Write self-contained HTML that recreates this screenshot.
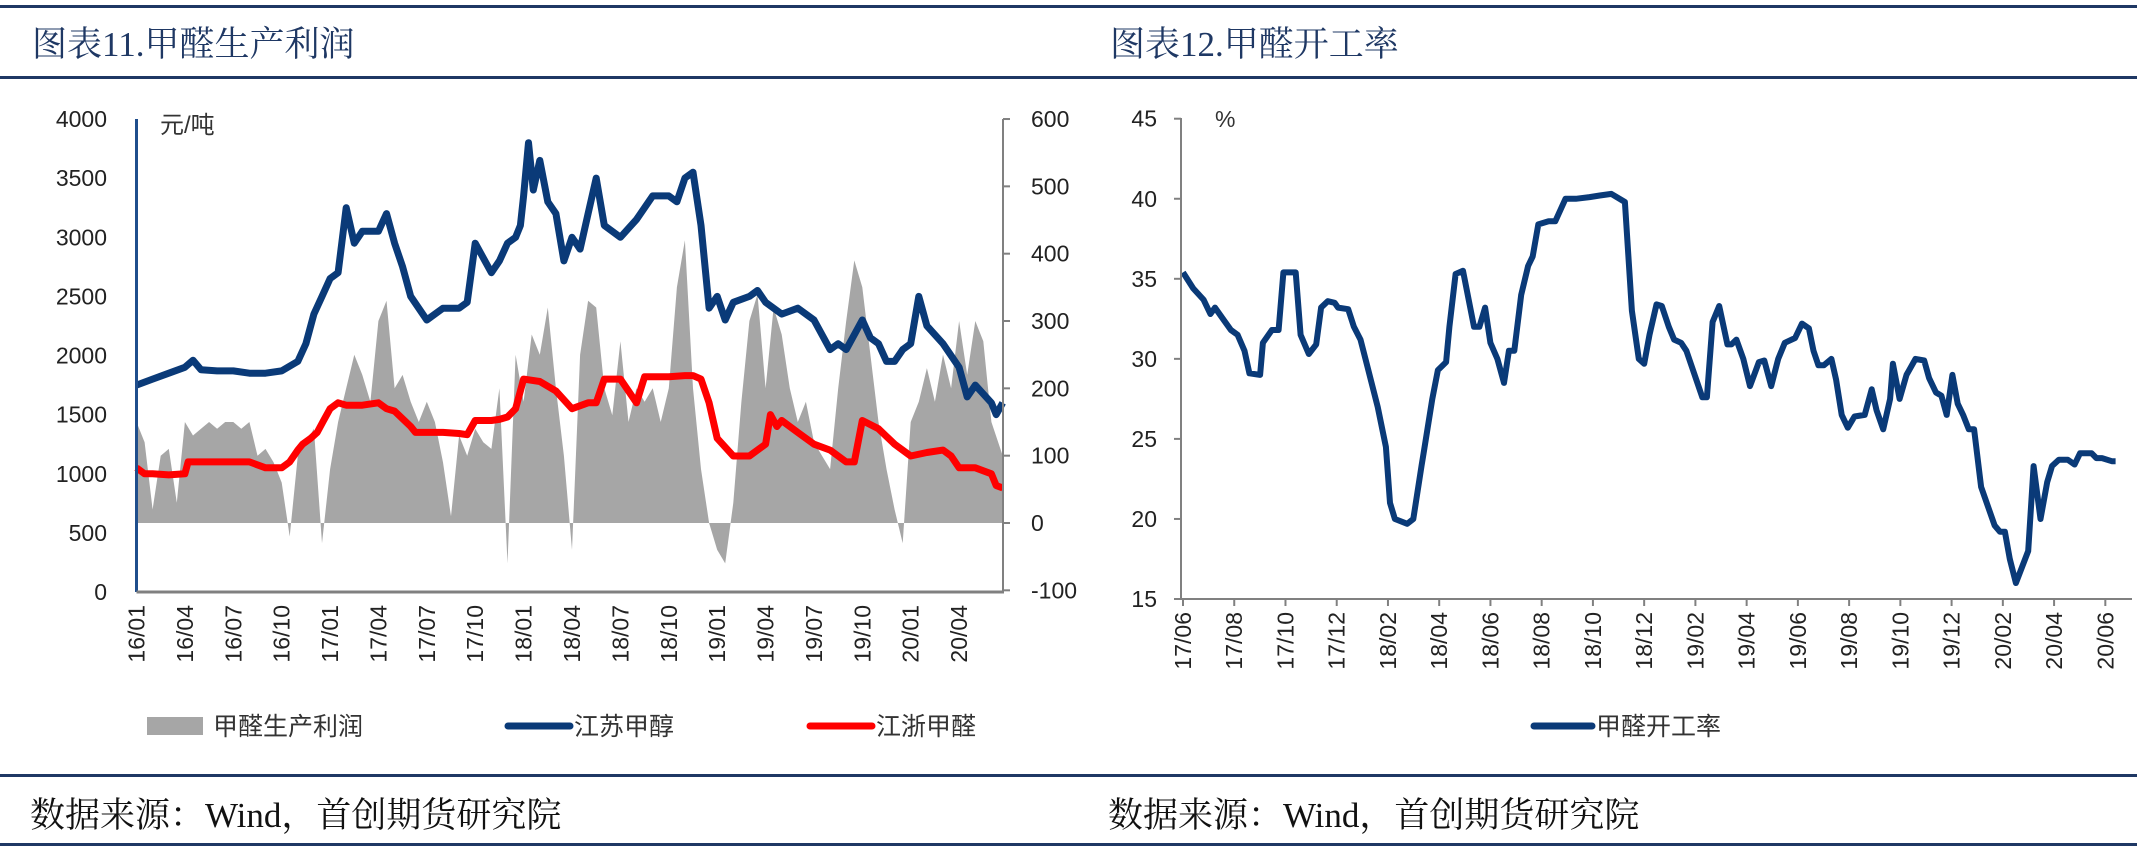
<!DOCTYPE html>
<html><head><meta charset="utf-8">
<style>
body{margin:0;background:#fff;}
svg{display:block;}
text{font-family:"Liberation Sans","Noto Sans CJK SC",sans-serif;}
.serif{font-family:"Liberation Serif","Noto Serif CJK SC",serif;}
</style></head>
<body>
<svg id="s" width="2137" height="849" viewBox="0 0 2137 849" xmlns="http://www.w3.org/2000/svg">
<rect x="0" y="5" width="2137" height="3" fill="#1f3864"/>
<rect x="0" y="76" width="2137" height="3" fill="#1f3864"/>
<rect x="0" y="774" width="2137" height="3" fill="#1f3864"/>
<rect x="0" y="843" width="2137" height="3" fill="#1f3864"/>
<text class="serif" x="32" y="56" font-size="35" fill="#1f3864">图表11.甲醛生产利润</text>
<text class="serif" x="1110" y="56" font-size="35" fill="#1f3864">图表12.甲醛开工率</text>
<text class="serif" x="30" y="827" font-size="35" fill="#111">数据来源：Wind，首创期货研究院</text>
<text class="serif" x="1108" y="827" font-size="35" fill="#111">数据来源：Wind，首创期货研究院</text>
<g id="L"></g>
<g id="R"></g>
</svg>
<script>
// ---- left chart data (t = months since 2016/01) ----
const methT=[0,1,2,3,3.5,4,5,6,7,8,9,10,10.5,11,11.5,12,12.5,13,13.5,14,15,15.5,16,16.5,17,18,19,20,20.5,21,22,22.5,23,23.5,23.8,24,24.3,24.6,25,25.5,26,26.5,27,27.5,28,28.5,29,30,31,32,33,33.5,34,34.5,35,35.5,36,36.5,37,38,38.5,39,40,41,42,43,43.5,44,45,45.5,46,46.5,47,47.5,48,48.5,49,50,51,51.5,52,53,53.3,53.7];
const methV=[1750,1800,1850,1900,1960,1880,1870,1870,1850,1850,1870,1950,2100,2350,2500,2650,2700,3250,2950,3050,3050,3200,2950,2750,2500,2300,2400,2400,2450,2950,2700,2800,2950,3000,3100,3350,3800,3400,3650,3300,3200,2800,3000,2900,3200,3500,3100,3000,3150,3350,3350,3300,3500,3550,3100,2400,2500,2300,2450,2500,2550,2450,2350,2400,2300,2050,2100,2050,2300,2150,2100,1950,1950,2050,2100,2500,2250,2100,1900,1650,1750,1600,1500,1600];
const hchoT=[0,0.5,1,2,3,3.2,4,5,6,7,8,9,9.5,10,10.3,10.8,11.2,11.6,12,12.5,13,14,15,15.5,16,17,17.3,18,19,20,20.5,21,22,22.5,23,23.5,24,25,26,27,28,28.5,29,30,30.5,31,31.5,32,33,34,34.5,35,35.5,36,37,38,39,39.3,39.7,40,41,42,43,44,44.5,45,46,47,48,49,50,50.5,51,52,53,53.3,53.7];
const hchoV=[1050,1000,1000,990,1000,1100,1100,1100,1100,1100,1050,1050,1100,1200,1250,1300,1350,1450,1550,1600,1580,1580,1600,1550,1530,1400,1350,1350,1350,1340,1330,1450,1450,1460,1480,1550,1800,1780,1700,1550,1600,1600,1800,1800,1700,1600,1820,1820,1820,1830,1830,1800,1600,1300,1150,1150,1250,1500,1400,1450,1350,1250,1200,1100,1100,1450,1380,1250,1150,1180,1200,1150,1050,1050,1000,900,880];
const profitT=[0,0.5,1,1.5,2,2.5,3,3.5,4,4.5,5,5.5,6,6.5,7,7.5,8,8.5,9,9.5,10,10.5,11,11.5,12,12.5,13,13.5,14,14.5,15,15.5,16,16.5,17,17.5,18,18.5,19,19.5,20,20.5,21,21.5,22,22.5,23,23.5,24,24.5,25,25.5,26,26.5,27,27.5,28,28.5,29,29.5,30,30.5,31,31.5,32,32.5,33,33.5,34,34.5,35,35.5,36,36.5,37,37.5,38,38.5,39,39.5,40,40.5,41,41.5,42,42.5,43,43.5,44,44.5,45,45.5,46,46.5,47,47.5,48,48.5,49,49.5,50,50.5,51,51.5,52,52.5,53,53.7];
const profitV=[150,120,20,100,110,30,150,130,140,150,140,150,150,140,150,100,110,90,60,-20,100,120,140,-30,80,150,200,250,220,180,300,330,200,220,180,150,180,150,90,10,130,100,140,120,110,200,-60,250,180,280,250,320,200,100,-40,250,330,320,200,160,270,150,200,180,200,150,200,350,420,200,80,0,-40,-60,30,180,300,340,200,320,280,200,150,180,120,100,80,200,300,390,350,250,150,80,20,-30,150,180,230,180,250,200,300,220,300,270,150,100];
const leftTicks=["0","500","1000","1500","2000","2500","3000","3500","4000"];
const rightTicks=["-100","0","100","200","300","400","500","600"];
const leftXLabels=["16/01","16/04","16/07","16/10","17/01","17/04","17/07","17/10","18/01","18/04","18/07","18/10","19/01","19/04","19/07","19/10","20/01","20/04"];
// ---- right chart data (t = months since 2017/06) ----
const rateT=[0,0.4,0.8,1.07,1.25,1.6,1.87,2.13,2.4,2.59,3.01,3.12,3.47,3.73,3.92,4.4,4.59,4.91,5.2,5.39,5.65,5.92,6.05,6.45,6.67,6.93,7.2,7.6,7.92,8.08,8.27,8.75,8.99,9.31,9.41,9.73,9.95,10.27,10.4,10.64,10.93,11.36,11.57,11.79,12.0,12.27,12.53,12.72,12.93,13.2,13.47,13.65,13.87,14.27,14.53,14.93,15.33,15.87,16.27,16.72,17.25,17.52,17.79,18.0,18.21,18.48,18.69,18.96,19.17,19.44,19.65,20.27,20.45,20.67,20.93,21.25,21.41,21.6,21.87,22.13,22.48,22.69,22.96,23.23,23.49,23.89,24.16,24.43,24.61,24.8,25.01,25.31,25.49,25.71,25.95,26.21,26.61,26.88,27.07,27.33,27.6,27.71,27.97,28.24,28.59,28.93,29.12,29.39,29.6,29.81,30.03,30.24,30.45,30.67,30.88,31.15,31.68,31.89,32.08,32.27,32.51,32.99,33.2,33.47,33.73,33.92,34.19,34.53,34.8,35.01,35.47,35.65,35.87,36.27,36.4];
const rateV=[35.4,34.4,33.7,32.8,33.2,32.4,31.8,31.5,30.5,29.1,29.0,31.0,31.8,31.8,35.4,35.4,31.5,30.3,30.9,33.2,33.6,33.5,33.2,33.1,32.0,31.2,29.5,27.0,24.5,21.0,20.0,19.7,20.0,23.3,24.3,27.5,29.3,29.8,32.0,35.3,35.5,32.0,32.0,33.2,31.0,30.0,28.5,30.5,30.5,34.0,35.8,36.4,38.4,38.6,38.6,40.0,40.0,40.1,40.2,40.3,39.8,33.0,30.0,29.7,31.5,33.4,33.3,32.0,31.2,31.0,30.5,27.6,27.6,32.3,33.3,30.9,30.9,31.2,30.0,28.3,29.8,29.9,28.3,30.0,31.0,31.3,32.2,31.9,30.5,29.6,29.6,30.0,28.7,26.5,25.7,26.4,26.5,28.1,26.8,25.6,27.5,29.7,27.5,29.0,30.0,29.9,28.8,27.9,27.7,26.5,29.0,27.2,26.5,25.6,25.6,22.0,19.6,19.2,19.2,17.5,16.0,18.0,23.3,20.0,22.3,23.3,23.7,23.7,23.4,24.1,24.1,23.8,23.8,23.6,23.6,24.0,22.7,22.7];
const rateTicks=["15","20","25","30","35","40","45"];
const rightXLabels=["17/06","17/08","17/10","17/12","18/02","18/04","18/06","18/08","18/10","18/12","19/02","19/04","19/06","19/08","19/10","19/12","20/02","20/04","20/06"];

const NS="http://www.w3.org/2000/svg";
function mk(tag,attrs,parent){const e=document.createElementNS(NS,tag);for(const k in attrs)e.setAttribute(k,attrs[k]);parent.appendChild(e);return e;}
const L=document.getElementById('L'), R=document.getElementById('R');

const lx=t=>136.5+t*16.13;
const ly=v=>592-v*0.11825;
const ry=p=>523-p*0.6733;
const rx=t=>1183+t*25.62;
const rry=v=>118.7+(45-v)*16.01;

let d="M"+lx(profitT[0])+" "+ry(0);
profitT.forEach((t,i)=>{d+=" L"+lx(t).toFixed(1)+" "+ry(profitV[i]).toFixed(1);});
d+=" L"+lx(profitT[profitT.length-1])+" "+ry(0)+" Z";
let el=mk('path',{d:d,fill:'#a6a6a6'},L);



function line(T,V,fx,fy,color,parent,name,w){
  const p=T.map((t,i)=>fx(t).toFixed(1)+","+fy(V[i]).toFixed(1)).join(" ");
  const e=mk('polyline',{points:p,fill:'none',stroke:color,'stroke-width':w,'stroke-linejoin':'round'},parent);
  
  
}
line(hchoT,hchoV,lx,ly,'#ff0000',L,'zhejiang-formaldehyde-line',7);
line(methT,methV,lx,ly,'#0a3a78',L,'jiangsu-methanol-line',7);

el=mk('line',{x1:136.5,y1:119,x2:136.5,y2:592,stroke:'#1f4e8c','stroke-width':3},L);

el=mk('line',{x1:136.5,y1:592,x2:1004,y2:592,stroke:'#808080','stroke-width':3},L);

el=mk('line',{x1:1003,y1:119,x2:1003,y2:592,stroke:'#808080','stroke-width':2},L);

leftTicks.forEach((s,i)=>{
  const e=mk('text',{x:107,y:ly(+s)+8,'font-size':23,'text-anchor':'end',fill:'#222'},L);e.textContent=s;
  
  
});
rightTicks.forEach(s=>{
  const y=ry(+s);
  mk('line',{x1:1003,y1:y,x2:1010,y2:y,stroke:'#808080','stroke-width':2},L);
  const e=mk('text',{x:1031,y:y+8,'font-size':23,fill:'#222'},L);e.textContent=s;
  
  
});
leftXLabels.forEach((s,i)=>{
  const x=lx(i*3);
  const e=mk('text',{x:0,y:0,'font-size':23,'text-anchor':'end',fill:'#222',transform:`translate(${x+8},${605}) rotate(-90)`},L);e.textContent=s;
  
  
});
el=mk('text',{x:160,y:133,'font-size':24,fill:'#333'},L);el.textContent="元/吨";


el=mk('rect',{x:147,y:717,width:56,height:18,fill:'#a6a6a6'},L);

el=mk('text',{x:213,y:735,'font-size':25,fill:'#333'},L);el.textContent="甲醛生产利润";

el=mk('line',{x1:508,y1:726,x2:570,y2:726,stroke:'#0a3a78','stroke-width':7,'stroke-linecap':'round'},L);

el=mk('text',{x:574,y:735,'font-size':25,fill:'#333'},L);el.textContent="江苏甲醇";

el=mk('line',{x1:810,y1:726,x2:872,y2:726,stroke:'#ff0000','stroke-width':7,'stroke-linecap':'round'},L);

el=mk('text',{x:876,y:735,'font-size':25,fill:'#333'},L);el.textContent="江浙甲醛";


line(rateT,rateV,rx,rry,'#0a3a78',R,'operating-rate-line',6);
el=mk('line',{x1:1181,y1:118,x2:1181,y2:599,stroke:'#808080','stroke-width':2},R);

el=mk('line',{x1:1181,y1:599,x2:2132,y2:599,stroke:'#808080','stroke-width':2},R);

rateTicks.forEach(s=>{
  const y=rry(+s);
  mk('line',{x1:1174,y1:y,x2:1181,y2:y,stroke:'#808080','stroke-width':2},R);
  const e=mk('text',{x:1157,y:y+8,'font-size':23,'text-anchor':'end',fill:'#222'},R);e.textContent=s;
  
  
});
rightXLabels.forEach((s,i)=>{
  const x=rx(i*2);
  mk('line',{x1:x,y1:599,x2:x,y2:606,stroke:'#808080','stroke-width':2},R);
  const e=mk('text',{x:0,y:0,'font-size':23,'text-anchor':'end',fill:'#222',transform:`translate(${x+8},${612}) rotate(-90)`},R);e.textContent=s;
  
  
});
el=mk('text',{x:1215,y:127,'font-size':23,fill:'#333'},R);el.textContent="%";

el=mk('line',{x1:1534,y1:726,x2:1592,y2:726,stroke:'#0a3a78','stroke-width':7,'stroke-linecap':'round'},R);

el=mk('text',{x:1596,y:735,'font-size':25,fill:'#333'},R);el.textContent="甲醛开工率";

</script>
</body></html>
